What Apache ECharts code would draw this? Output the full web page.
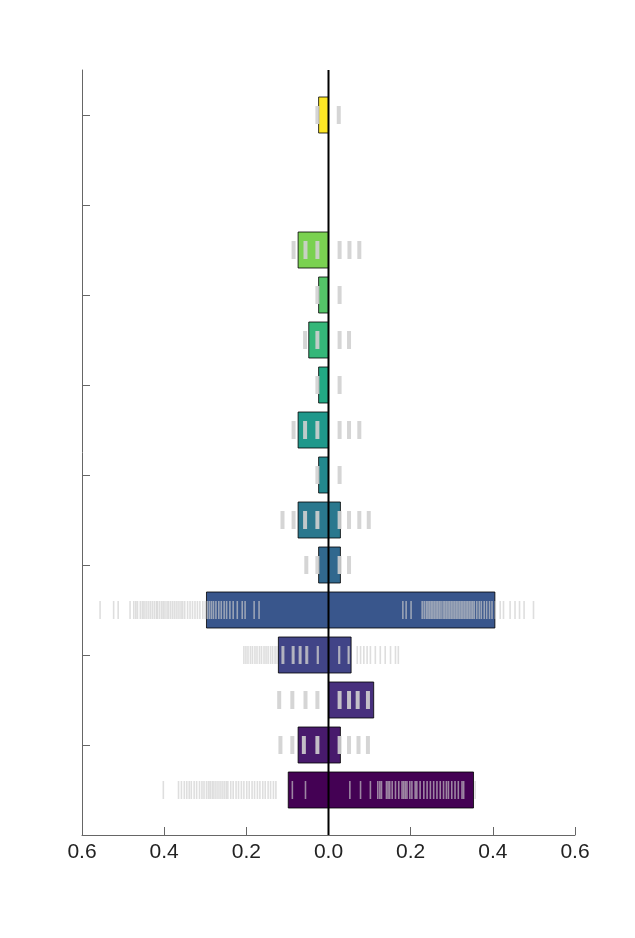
<!DOCTYPE html>
<html>
<head>
<meta charset="utf-8">
<script src="https://cdn.jsdelivr.net/npm/echarts@6/dist/echarts.min.js"></script>
<style>
html,body{margin:0;padding:0;background:#fff;}
#chart{width:635px;height:938px;}
</style>
</head>
<body>
<div id="chart"></div>
<script>
// Row positions (counted from the bottom), one per drawn bar
const rowPos = [1, 2, 3, 4, 5, 6, 7, 8, 9, 10, 11, 12, 13, 16];
// Bar extents: negative end and positive end
const barLow  = [-0.098, -0.074, 0.000, -0.122, -0.297, -0.024, -0.074, -0.024, -0.074, -0.024, -0.048, -0.024, -0.074, -0.024];
const barHigh = [ 0.353,  0.029, 0.110,  0.055,  0.405,  0.029,  0.029,  0.000,  0.000,  0.000,  0.000,  0.000,  0.000,  0.000];
// Viridis palette, one colour per row slot (1..16)
const palette = ['#440154','#481a6c','#472f7d','#414487','#39568c','#31688e','#2a788e','#23888e',
                 '#1f988b','#22a884','#35b779','#54c568','#7ad151','#a5db36','#d2e21b','#fde725'];
// Rug values per row (same order as rowPos)
const rugs = [
  // pos 1
  [-0.402,-0.365,-0.358,-0.351,-0.345,-0.339,-0.334,-0.327,-0.321,-0.314,-0.308,-0.303,-0.297,-0.292,-0.288,-0.283,
   -0.279,-0.274,-0.269,-0.264,-0.259,-0.254,-0.249,-0.245,-0.238,-0.232,-0.225,-0.219,-0.212,-0.206,-0.199,-0.193,
   -0.186,-0.180,-0.173,-0.167,-0.160,-0.154,-0.147,-0.141,-0.134,-0.128,-0.088,-0.056,
   0.052,0.078,0.102,0.120,0.125,0.129,0.141,0.145,0.149,0.155,0.163,0.171,0.179,0.183,0.187,0.191,0.198,0.203,
   0.211,0.215,0.223,0.232,0.240,0.248,0.256,0.264,0.272,0.280,0.287,0.292,0.300,0.308,0.316,0.325,0.329,0.357],
  // pos 2
  [-0.117,-0.088,-0.060,-0.027,0.027,0.050,0.073,0.096],
  // pos 3
  [-0.120,-0.088,-0.056,-0.027,0.027,0.050,0.071,0.096],
  // pos 4
  [-0.206,-0.201,-0.196,-0.190,-0.185,-0.179,-0.174,-0.168,-0.163,-0.157,-0.152,-0.147,-0.141,-0.136,-0.130,-0.125,
   -0.113,-0.111,-0.109,-0.088,-0.086,-0.084,-0.071,-0.069,-0.067,-0.055,-0.053,-0.051,-0.027,-0.025,
   0.025,0.027,0.048,0.050,0.070,0.078,0.086,0.094,0.102,0.114,0.126,0.138,0.151,0.163,0.170],
  // pos 5
  [-0.556,-0.523,-0.512,-0.483,-0.474,-0.469,-0.465,-0.458,-0.453,-0.449,-0.444,-0.439,-0.434,-0.429,-0.424,-0.419,
   -0.416,-0.411,-0.406,-0.402,-0.398,-0.393,-0.389,-0.384,-0.379,-0.374,-0.369,-0.364,-0.359,-0.355,-0.350,-0.343,
   -0.337,-0.331,-0.325,-0.319,-0.313,-0.306,-0.300,-0.295,-0.290,-0.285,-0.280,-0.274,-0.267,-0.261,-0.254,-0.248,
   -0.240,-0.232,-0.222,-0.210,-0.203,-0.181,-0.169,
   0.181,0.189,0.201,0.228,0.233,0.238,0.242,0.246,0.250,0.254,0.258,0.262,0.266,0.270,0.274,0.279,0.283,0.287,
   0.291,0.295,0.299,0.303,0.307,0.311,0.315,0.319,0.323,0.327,0.331,0.335,0.339,0.343,0.347,0.351,0.355,0.361,
   0.367,0.372,0.379,0.385,0.392,0.398,0.406,0.418,0.426,0.442,0.454,0.465,0.476,0.499],
  // pos 6
  [-0.054,-0.027,0.027,0.050],
  // pos 7
  [-0.112,-0.085,-0.057,-0.027,0.027,0.050,0.075,0.098],
  // pos 8
  [-0.027,0.027],
  // pos 9
  [-0.085,-0.057,-0.027,0.027,0.050,0.075],
  // pos 10
  [-0.027,0.027],
  // pos 11
  [-0.057,-0.027,0.027,0.050],
  // pos 12
  [-0.027,0.027],
  // pos 13
  [-0.085,-0.056,-0.027,0.027,0.051,0.075],
  // pos 16
  [-0.027,0.025]
];
// Axis tick values
const xTicks = [-0.6, -0.4, -0.2, 0.0, 0.2, 0.4, 0.6];
const yTicks = [2, 4, 6, 8, 10, 12, 14, 16];

const barData = rowPos.map((p, i) => [barLow[i], barHigh[i], p]);
const rugData = [];
rowPos.forEach((p, i) => {
  const dense = rugs[i].length > 20 ? 1 : 0;
  rugs[i].forEach(v => rugData.push([v, p, dense]));
});

const chart = echarts.init(document.getElementById('chart'), null, {renderer: 'canvas'});
chart.setOption({
  animation: false,
  backgroundColor: '#ffffff',
  grid: {left: 82, right: 60, top: 70, bottom: 103},
  xAxis: {
    type: 'value', min: xTicks[0], max: xTicks[xTicks.length - 1], interval: 0.2,
    axisLine: {show: true, onZero: false, lineStyle: {color: '#666', width: 1}},
    axisTick: {show: true, inside: true, length: 8, lineStyle: {color: '#666', width: 1}},
    axisLabel: {
      fontSize: 21, color: '#222', fontFamily: 'Liberation Sans', margin: 7,
      formatter: v => Math.abs(v).toFixed(1)
    },
    splitLine: {show: false}
  },
  yAxis: {
    type: 'value', min: 0, max: 17,
    axisLine: {show: true, onZero: false, lineStyle: {color: '#666', width: 1}},
    axisTick: {show: true, inside: true, length: 8, customValues: yTicks, lineStyle: {color: '#666', width: 1}},
    axisLabel: {show: false, customValues: yTicks},
    splitLine: {show: false}
  },
  series: [
    {
      type: 'custom', z: 2, silent: true,
      data: barData,
      encode: {x: [0, 1], y: 2},
      renderItem: (params, api) => {
        const lo = api.value(0), hi = api.value(1), y = api.value(2);
        const a = api.coord([lo, y]), b = api.coord([hi, y]);
        const h = api.size([0, 0.8])[1];
        return {
          type: 'rect',
          shape: {x: a[0], y: a[1] - h / 2, width: b[0] - a[0], height: h},
          style: {fill: palette[y - 1], stroke: 'rgba(0,0,0,0.8)', lineWidth: 1}
        };
      }
    },
    {
      type: 'custom', z: 3, silent: true,
      data: rugData,
      encode: {x: 0, y: 1},
      renderItem: (params, api) => {
        const v = api.value(0), y = api.value(1), dense = api.value(2);
        const c = api.coord([v, y]);
        const h = api.size([0, 0.4])[1];
        const w = dense ? 1.6 : 4;
        return {
          type: 'rect',
          shape: {x: c[0] - w / 2, y: c[1] - h / 2, width: w, height: h},
          style: {fill: dense ? 'rgba(205,205,205,0.65)' : 'rgba(208,208,208,0.9)'}
        };
      }
    },
    {
      type: 'line', z: 5, silent: true, showSymbol: false,
      data: [[0, 0], [0, 17]],
      lineStyle: {color: '#000', width: 2}
    }
  ]
});
</script>
</body>
</html>
